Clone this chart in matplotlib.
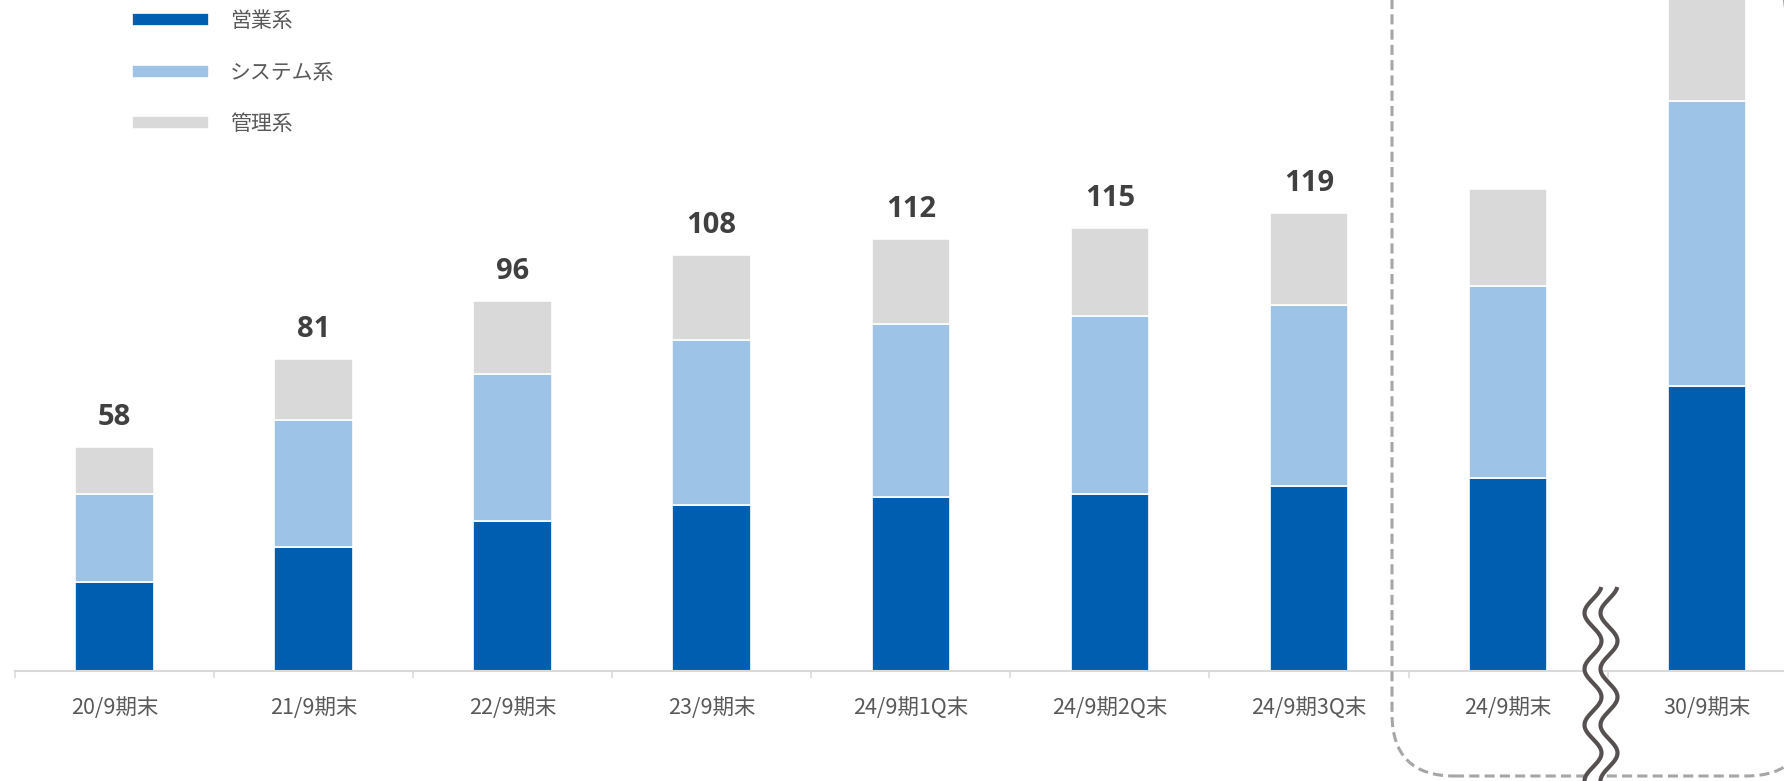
import numpy as np
import matplotlib
matplotlib.use('Agg')
import matplotlib.pyplot as plt
from matplotlib.patches import FancyBboxPatch
from matplotlib.lines import Line2D

plt.rcParams['font.family'] = ['Noto Sans CJK JP', 'DejaVu Sans']

# data (people)
categories = ['20/9期末', '21/9期末', '22/9期末', '23/9期末', '24/9期1Q末',
              '24/9期2Q末', '24/9期3Q末', '24/9期末', '30/9期末']
sales = [23, 32, 39, 43, 45, 46, 48, 50, 74]
system = [23, 33, 38, 43, 45, 46, 47, 50, 74]
admin = [12, 16, 19, 22, 22, 23, 24, 25, 40]
totals = [58, 81, 96, 108, 112, 115, 119, None, None]
series_names = ['営業系', 'システム系', '管理系']

c_sales = '#005EB0'
c_system = '#9DC3E6'
c_admin = '#D9D9D9'

W, H = 1784, 781
fig = plt.figure(figsize=(W / 100, H / 100), dpi=100)
ax = fig.add_axes([14.85 / W, 110.3 / H, 9 * 199.1 / W, 670.7 / H])

x = np.arange(len(categories))
bw = 0.394
sales_a = np.array(sales)
system_a = np.array(system)
admin_a = np.array(admin)
b1 = ax.bar(x, sales_a, bw, color=c_sales, edgecolor='white', linewidth=1.2, label=series_names[0])
b2 = ax.bar(x, system_a, bw, bottom=sales_a, color=c_system, edgecolor='white', linewidth=1.2,
            label=series_names[1])
b3 = ax.bar(x, admin_a, bw, bottom=sales_a + system_a, color=c_admin, edgecolor='white',
            linewidth=1.2, label=series_names[2])

for xi, t in zip(x, totals):
    if t is None:
        continue
    ax.annotate(str(t), (xi, t), xytext=(0, 15), textcoords='offset pixels',
                ha='center', va='bottom', fontsize=21, fontweight='bold',
                color='#404040', family=['Open Sans', 'DejaVu Sans'])

ax.set_xlim(-0.5, len(categories) - 0.5)
ax.set_ylim(0, 174.2)
for s in ['top', 'right', 'left']:
    ax.spines[s].set_visible(False)
ax.spines['bottom'].set_color('#d9d9d9')
ax.spines['bottom'].set_linewidth(1.5)
ax.set_yticks([])
ax.set_xticks(x)
ax.set_xticklabels(categories, fontsize=15.5, color='#595959')
ax.set_xticks(np.arange(-0.5, len(categories)), minor=True)
ax.tick_params(axis='x', which='major', length=0, pad=19)
ax.tick_params(axis='x', which='minor', length=5, width=1.1, color='#d9d9d9')

leg = ax.legend(handles=[b1, b2, b3], loc='upper left', bbox_to_anchor=(132 / W, 1 - 10 / H),
                bbox_transform=fig.transFigure, frameon=False, fontsize=15,
                handlelength=3.7, handleheight=0.6, handletextpad=1.0,
                labelspacing=1.42, borderpad=0, borderaxespad=0)
for t in leg.get_texts():
    t.set_color('#595959')

# dashed rounded frame around the target columns
box = FancyBboxPatch((13.92, 0.05), 4.16, 9.0,
                     boxstyle='round,pad=0,rounding_size=0.62',
                     transform=fig.dpi_scale_trans, fill=False,
                     edgecolor='#a6a6a6', linewidth=2.2,
                     linestyle=(0, (3.3, 1.7)), clip_on=False, zorder=5)
fig.add_artist(box)

# axis break mark (two wavy lines)
yy = np.linspace(587, 800, 300)
cx = 1593
wave = cx - 8.5 * np.cos(2 * np.pi * (yy - 613) / 56)
fy = (H - yy) / H
fig.add_artist(Line2D((wave + 8) / W, fy, color='white', linewidth=10,
                      transform=fig.transFigure, zorder=6))
for off in (0, 16):
    fig.add_artist(Line2D((wave + off) / W, fy, color='#575050', linewidth=3,
                          transform=fig.transFigure, zorder=7,
                          solid_capstyle='butt'))

fig.savefig('out.png', dpi=100)
